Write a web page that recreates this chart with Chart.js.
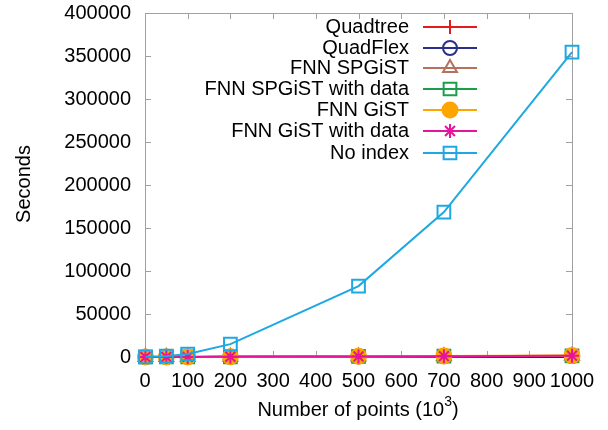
<!DOCTYPE html>
<html>
<head>
<meta charset="utf-8">
<script src="https://cdn.jsdelivr.net/npm/chart.js@4.4.1/dist/chart.umd.min.js"></script>
<style>
html,body{margin:0;padding:0;background:#fff;}
#wrap{position:relative;width:608px;height:430px;}
</style>
</head>
<body>
<div id="wrap"><canvas id="c" width="608" height="430"></canvas></div>
<script>
// ---- data ----
const points = [1, 50, 100, 200, 500, 700, 1000];
const quadtree = [2, 40, 90, 200, 550, 800, 1200];
const quadflex = [2, 35, 80, 180, 500, 750, 1100];
const fnnSpgist = [3, 50, 110, 240, 650, 950, 1400];
const fnnSpgistData = [3, 45, 100, 220, 600, 900, 1300];
const fnnGist = [4, 60, 130, 280, 750, 1100, 1600];
const fnnGistData = [4, 55, 120, 260, 700, 1000, 1500];
const noIndex = [200, 1000, 3500, 15000, 82500, 168500, 354500];
const seriesNames = ["Quadtree", "QuadFlex", "FNN SPGiST", "FNN SPGiST with data", "FNN GiST", "FNN GiST with data", "No index"];
const xTicks = [0, 100, 200, 300, 400, 500, 600, 700, 800, 900, 1000];
const yTicks = [0, 50000, 100000, 150000, 200000, 250000, 300000, 350000, 400000];

const FONT = "Liberation Sans, Arial, Helvetica, sans-serif";
const FS = 20;

const styles = [
  {color:"#e41a1c", style:"cross", r:7, fill:false},
  {color:"#2a2f8c", style:"circle", r:7, fill:false},
  {color:"#b5715b", style:"triangle", r:8, fill:false},
  {color:"#1a9f48", style:"rect", r:9, fill:false},
  {color:"#ffa500", style:"circle", r:7.5, fill:true},
  {color:"#e6149a", style:"star", r:7, fill:false},
  {color:"#1ea8e3", style:"rect", r:9, fill:false}
];
const values = [quadtree, quadflex, fnnSpgist, fnnSpgistData, fnnGist, fnnGistData, noIndex];

const datasets = values.map((vals, i) => ({
  label: seriesNames[i],
  data: points.map((x, k) => ({x: x, y: vals[k]})),
  borderColor: styles[i].color,
  backgroundColor: styles[i].fill ? styles[i].color : "rgba(0,0,0,0)",
  pointBorderColor: styles[i].color,
  pointBackgroundColor: styles[i].fill ? styles[i].color : "rgba(0,0,0,0)",
  pointStyle: styles[i].style,
  pointRadius: styles[i].r,
  pointBorderWidth: 2,
  borderWidth: 2,
  showLine: true,
  clip: false,
  order: 7 - i
}));

const framePlugin = {
  id: "frame",
  beforeDatasetsDraw(chart) {
    const {ctx, chartArea: a, scales} = chart;
    ctx.save();
    ctx.strokeStyle = "#a0a0a0";
    ctx.lineWidth = 1;
    ctx.beginPath();
    ctx.rect(a.left + 0.5, a.top + 0.5, a.right - a.left, a.bottom - a.top);
    ctx.stroke();
    const tl = 6;
    ctx.beginPath();
    xTicks.forEach(v => {
      const px = Math.round(scales.x.getPixelForValue(v)) + 0.5;
      ctx.moveTo(px, a.bottom); ctx.lineTo(px, a.bottom - tl);
      ctx.moveTo(px, a.top); ctx.lineTo(px, a.top + tl);
    });
    yTicks.forEach(v => {
      const py = Math.round(scales.y.getPixelForValue(v)) + 0.5;
      ctx.moveTo(a.left, py); ctx.lineTo(a.left + tl, py);
      ctx.moveTo(a.right, py); ctx.lineTo(a.right - tl, py);
    });
    ctx.stroke();
    ctx.strokeStyle = "#000";
    ctx.lineWidth = 1.5;
    ctx.beginPath();
    const y0 = scales.y.getPixelForValue(0);
    ctx.moveTo(a.left, y0); ctx.lineTo(a.right, y0);
    ctx.stroke();
    ctx.restore();
  },
  afterDraw(chart) {
    const {ctx} = chart;
    ctx.save();
    ctx.fillStyle = "#000";
    ctx.font = FS + "px " + FONT;
    ctx.save();
    ctx.translate(24, 184);
    ctx.rotate(-Math.PI / 2);
    ctx.textAlign = "center";
    ctx.textBaseline = "middle";
    ctx.fillText("Seconds", 0, 0);
    ctx.restore();
    const main = "Number of points (10";
    const sup = "3";
    const close = ")";
    ctx.font = FS + "px " + FONT;
    const w1 = ctx.measureText(main).width;
    const w3 = ctx.measureText(close).width;
    ctx.font = Math.round(FS * 0.7) + "px " + FONT;
    const w2 = ctx.measureText(sup).width;
    const total = w1 + w2 + w3;
    let x = 358 - total / 2;
    const yb = 410;
    ctx.textBaseline = "middle";
    ctx.textAlign = "left";
    ctx.font = FS + "px " + FONT;
    ctx.fillText(main, x, yb);
    x += w1;
    ctx.font = Math.round(FS * 0.7) + "px " + FONT;
    ctx.fillText(sup, x, yb - 8);
    x += w2;
    ctx.font = FS + "px " + FONT;
    ctx.fillText(close, x, yb);
    const textRight = 409;
    const lineL = 423, lineR = 477, mx = 450;
    const rowY = [27, 48, 68, 89, 110, 131, 153];
    chart.data.datasets.forEach((ds, i) => {
      const y = rowY[i];
      ctx.font = FS + "px " + FONT;
      ctx.textAlign = "right";
      ctx.textBaseline = "middle";
      ctx.fillStyle = "#000";
      ctx.fillText(ds.label, textRight, y);
      ctx.strokeStyle = ds.borderColor;
      ctx.lineWidth = 2;
      ctx.beginPath();
      ctx.moveTo(lineL, y); ctx.lineTo(lineR, y);
      ctx.stroke();
      ctx.fillStyle = ds.pointBackgroundColor;
      ctx.strokeStyle = ds.pointBorderColor;
      ctx.lineWidth = 2;
      Chart.helpers.drawPoint(ctx, {pointStyle: ds.pointStyle, radius: ds.pointRadius, borderWidth: 2, rotation: 0}, mx, y);
    });
    ctx.restore();
  }
};

new Chart(document.getElementById("c"), {
  type: "scatter",
  data: {datasets: datasets},
  options: {
    responsive: false,
    animation: false,
    devicePixelRatio: 1,
    layout: {padding: {left: 0, right: 36, top: 13, bottom: 0}},
    plugins: {legend: {display: false}, tooltip: {enabled: false}},
    scales: {
      x: {
        type: "linear", min: 0, max: 1000,
        afterFit(s) { s.height = 73; s.paddingLeft = 0; s.paddingRight = 0; },
        afterBuildTicks(s) { s.ticks = xTicks.map(v => ({value: v})); },
        grid: {display: false, drawTicks: false},
        border: {display: false},
        ticks: {color: "#000", font: {family: FONT, size: FS}, padding: 12, maxRotation: 0, autoSkip: false,
          callback: v => String(v)}
      },
      y: {
        type: "linear", min: 0, max: 400000,
        afterFit(s) { s.width = 145; s.paddingTop = 0; s.paddingBottom = 0; },
        afterBuildTicks(s) { s.ticks = yTicks.map(v => ({value: v})); },
        grid: {display: false, drawTicks: false},
        border: {display: false},
        ticks: {color: "#000", font: {family: FONT, size: FS}, padding: 14, autoSkip: false,
          callback: v => String(v)}
      }
    }
  },
  plugins: [framePlugin]
});
</script>
</body>
</html>
